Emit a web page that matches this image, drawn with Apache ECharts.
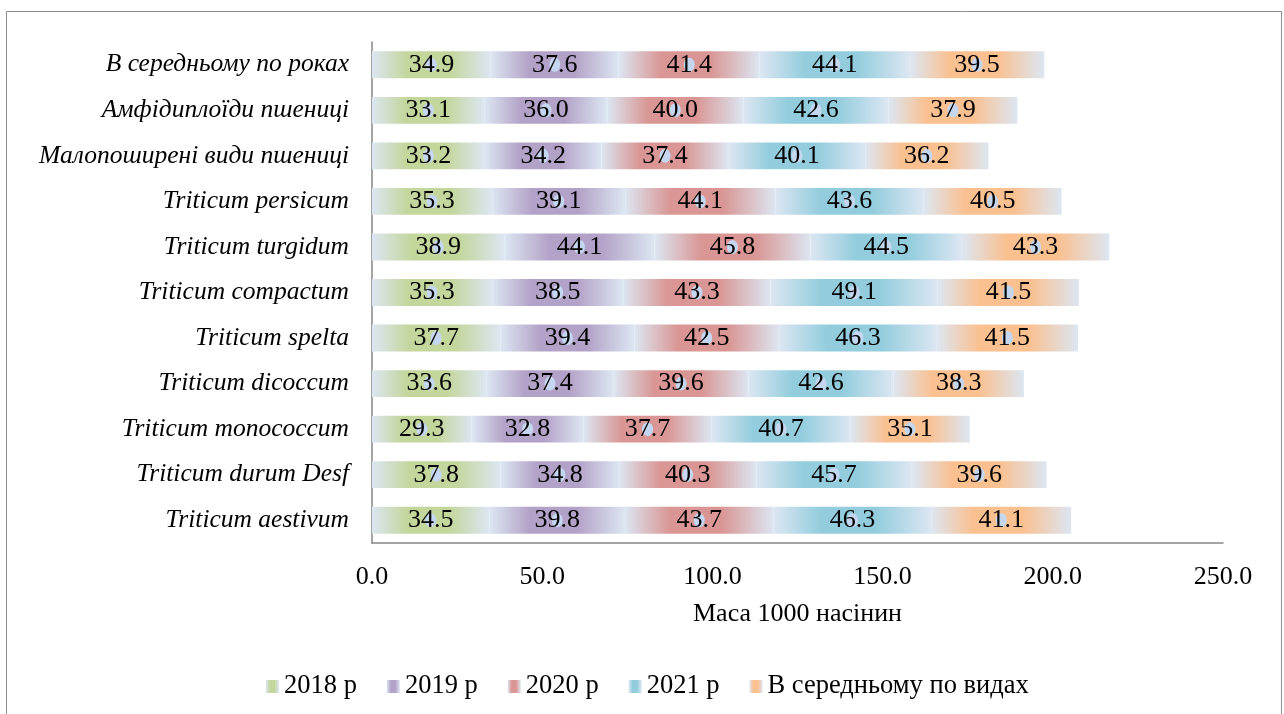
<!DOCTYPE html>
<html>
<head>
<meta charset="utf-8">
<script src="https://cdn.jsdelivr.net/npm/echarts@6/dist/echarts.min.js"></script>
<style>
  html, body { margin: 0; padding: 0; background: #fff; }
  #main { width: 1284px; height: 714px; }
</style>
</head>
<body>
<div id="main"></div>
<script>
// categories, top to bottom as in the picture
const categories = [
  'В середньому по роках',
  'Амфідиплоїди пшениці',
  'Малопоширені види пшениці',
  'Triticum persicum',
  'Triticum turgidum',
  'Triticum compactum',
  'Triticum spelta',
  'Triticum dicoccum',
  'Triticum monococcum',
  'Triticum durum Desf',
  'Triticum aestivum'
];
const seriesNames = ['2018 р', '2019 р', '2020 р', '2021 р', 'В середньому по видах'];
const v2018 = [34.9, 33.1, 33.2, 35.3, 38.9, 35.3, 37.7, 33.6, 29.3, 37.8, 34.5];
const v2019 = [37.6, 36.0, 34.2, 39.1, 44.1, 38.5, 39.4, 37.4, 32.8, 34.8, 39.8];
const v2020 = [41.4, 40.0, 37.4, 44.1, 45.8, 43.3, 42.5, 39.6, 37.7, 40.3, 43.7];
const v2021 = [44.1, 42.6, 40.1, 43.6, 44.5, 49.1, 46.3, 42.6, 40.7, 45.7, 46.3];
const vAvg = [39.5, 37.9, 36.2, 40.5, 43.3, 41.5, 41.5, 38.3, 35.1, 39.6, 41.1];
const colors = ['#c3d69b', '#b3a2c7', '#d99694', '#93cddd', '#fac090'];

const font = '"Liberation Serif", "Times New Roman", serif';
const edge = '#dce6f2';

function grad(c) {
  return new echarts.graphic.LinearGradient(0, 0, 1, 0, [
    { offset: 0, color: edge },
    { offset: 0.3, color: c },
    { offset: 0.65, color: c },
    { offset: 1, color: edge }
  ]);
}

const allValues = [v2018, v2019, v2020, v2021, vAvg];

// middle of every stacked segment, for the little dot + value label
const base = categories.map(() => 0);
const dotSeries = allValues.map((vals, i) => {
  const pts = vals.map((v, j) => {
    const p = [base[j] + v / 2, j, v];
    base[j] += v;
    return p;
  });
  return {
    name: seriesNames[i] + ' ',
    type: 'scatter',
    data: pts,
    symbol: 'circle',
    symbolSize: [11, 14],
    itemStyle: { color: '#c5d7f0', opacity: 1 },
    z: 3,
    silent: true,
    label: {
      show: true,
      position: 'inside',
      fontFamily: font,
      fontSize: 26,
      color: '#000',
      formatter: p => p.value[2].toFixed(1)
    }
  };
});

const chart = echarts.init(document.getElementById('main'));
chart.setOption({
  animation: false,
  textStyle: { fontFamily: font },
  graphic: [{
    type: 'rect',
    shape: { x: 6.5, y: 11.5, width: 1275, height: 720 },
    style: { fill: 'none', stroke: '#8c8c8c', lineWidth: 1 },
    silent: true
  }],
  grid: { left: 372, right: 61, top: 42, bottom: 171 },
  legend: {
    bottom: 9,
    left: 261,
    itemWidth: 13,
    itemHeight: 13,
    itemGap: 30,
    icon: 'rect',
    textStyle: { fontFamily: font, fontSize: 26.5, color: '#000', padding: [0, 0, 0, 0] },
    data: seriesNames
  },
  xAxis: {
    type: 'value',
    min: 0,
    max: 250,
    interval: 50,
    name: 'Маса 1000 насінин',
    nameLocation: 'middle',
    nameGap: 58,
    nameTextStyle: { fontFamily: font, fontSize: 26, color: '#000' },
    axisLine: { show: true, lineStyle: { color: '#868686', width: 1.5 } },
    axisTick: { show: false },
    splitLine: { show: false },
    axisLabel: {
      fontFamily: font, fontSize: 26, color: '#000', margin: 21,
      formatter: v => v.toFixed(1)
    }
  },
  yAxis: {
    type: 'category',
    inverse: true,
    data: categories,
    axisLine: { show: true, lineStyle: { color: '#868686', width: 1.5 } },
    axisTick: { show: false },
    axisLabel: {
      fontFamily: font, fontSize: 25.5, fontStyle: 'italic', color: '#000', margin: 23
    }
  },
  series: seriesNames.map((n, i) => ({
    name: n,
    type: 'bar',
    stack: 'total',
    barCategoryGap: '41%',
    data: allValues[i],
    itemStyle: { color: grad(colors[i]) }
  })).concat(dotSeries)
});
</script>
</body>
</html>
